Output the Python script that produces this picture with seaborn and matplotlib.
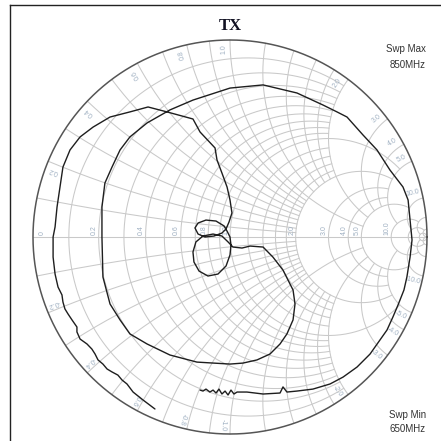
import numpy as np
import pandas as pd
import matplotlib
matplotlib.use("Agg")
import matplotlib.pyplot as plt
import seaborn as sns

gamma_re = [
    -0.381, -0.442, -0.492, -0.523, -0.548, -0.569, -0.599, -0.624, -0.645, -0.670,
    -0.685, -0.701, -0.726, -0.761, -0.777, -0.777, -0.802, -0.822, -0.838, -0.848,
    -0.853, -0.873, -0.888, -0.898, -0.898, -0.888, -0.878, -0.863, -0.848, -0.812,
    -0.761, -0.695, -0.609, -0.508, -0.416,
    -0.320, -0.188, -0.152, -0.076, -0.066, -0.041, -0.015, 0.000, 0.010,
    -0.005, -0.020, -0.041, -0.081, -0.127, -0.162, -0.178, -0.162, -0.122, -0.071,
    -0.030, -0.015, 0.000, 0.005, 0.000, -0.020, -0.061, -0.112, -0.157, -0.183,
    -0.188, -0.173, -0.137, -0.086, -0.041, -0.010, 0.015, 0.061, 0.102,
    0.168, 0.218, 0.269, 0.320, 0.330, 0.320, 0.289, 0.254, 0.203, 0.137,
    0.066, 0.000, -0.168, -0.305, -0.421, -0.508, -0.558, -0.609, -0.645, -0.650,
    -0.650, -0.635, -0.599, -0.558, -0.508, -0.421, -0.305, -0.188, 0.000,
    0.168, 0.340, 0.472, 0.543, 0.594, 0.675, 0.746, 0.812, 0.878, 0.904,
    0.914, 0.924, 0.914, 0.898, 0.883, 0.853, 0.827, 0.797, 0.761, 0.711,
    0.645, 0.574, 0.508, 0.421, 0.340, 0.289, 0.269, 0.254, 0.168, 0.086, 0.036,
    0.020, 0.005, -0.010, -0.025, -0.041, -0.056, -0.071, -0.086, -0.102, -0.122,
    -0.137, -0.152,
]
gamma_im = [
    -0.873, -0.827, -0.787, -0.746, -0.726, -0.701, -0.685, -0.670, -0.645, -0.624,
    -0.594, -0.569, -0.543, -0.518, -0.482, -0.457, -0.421, -0.391, -0.365, -0.330,
    -0.294, -0.254, -0.188, -0.102, 0.000, 0.051, 0.152, 0.254, 0.355, 0.442,
    0.508, 0.558, 0.609, 0.635, 0.660,
    0.635, 0.599, 0.533, 0.452, 0.391, 0.325, 0.254, 0.188, 0.122,
    0.076, 0.041, 0.020, 0.005, 0.000, 0.015, 0.046, 0.071, 0.086, 0.081,
    0.056, 0.030, 0.000, -0.041, -0.091, -0.147, -0.188, -0.198, -0.173, -0.127,
    -0.076, -0.025, 0.005, 0.015, 0.005, -0.025, -0.051, -0.056, -0.046,
    -0.051, -0.102, -0.168, -0.269, -0.340, -0.421, -0.492, -0.543, -0.594, -0.624,
    -0.640, -0.645, -0.635, -0.599, -0.543, -0.492, -0.421, -0.340, -0.203, 0.000,
    0.152, 0.274, 0.355, 0.442, 0.508, 0.579, 0.645, 0.695, 0.756,
    0.772, 0.731, 0.670, 0.635, 0.609, 0.518, 0.442, 0.340, 0.254, 0.188,
    0.086, -0.015, -0.102, -0.203, -0.269, -0.345, -0.406, -0.472, -0.523, -0.594,
    -0.660, -0.711, -0.746, -0.772, -0.782, -0.787, -0.761, -0.792, -0.797, -0.787, -0.787,
    -0.797, -0.777, -0.802, -0.782, -0.797, -0.772, -0.792, -0.777, -0.787, -0.772,
    -0.782, -0.777,
]

# smith grid: constant resistance circles and how far (in |x|) each one runs
r_grid = [0.1, 0.2, 0.3, 0.4, 0.5, 0.6, 0.7, 0.8, 0.9, 1.0,
          1.2, 1.4, 1.6, 1.8, 2.0, 3.0, 4.0, 5.0, 10.0, 20.0, 50.0]
r_grid_xmax = [2, 2, 2, 2, 2, 2, 2, 2, 2, 5,
               2, 2, 2, 2, 5, 5, 5, 10, 20, 50, 1e6]
# constant reactance arcs and how far (in r) each one runs
x_grid = [0.1, 0.2, 0.3, 0.4, 0.5, 0.6, 0.7, 0.8, 0.9, 1.0,
          1.2, 1.4, 1.6, 1.8, 2.0, 3.0, 4.0, 5.0, 10.0, 20.0, 50.0]
x_grid_rmax = [2, 2, 2, 2, 2, 2, 2, 2, 2, 5,
               2, 2, 2, 2, 5, 5, 5, 10, 20, 50, 1e6]

r_labels = ["0", "0.2", "0.4", "0.6", "0.8", "1.0", "2.0", "3.0", "4.0", "5.0", "10.0"]
x_labels = ["0.2", "0.4", "0.6", "0.8", "1.0", "2.0", "3.0", "4.0", "5.0", "10.0"]

GRID = "#c9c9c9"
LBL = "#9fb0c2"


def z2g(z):
    return (z - 1) / (z + 1)


def draw_r(ax, r, xmax):
    t = np.linspace(-np.arctan(xmax), np.arctan(xmax), 400)
    g = z2g(r + 1j * np.tan(t))
    ax.plot(g.real, g.imag, color=GRID, lw=0.75, zorder=1)


def draw_x(ax, x, rmax):
    t = np.linspace(0, np.arctan(rmax), 400)
    g = z2g(np.tan(t) + 1j * x)
    ax.plot(g.real, g.imag, color=GRID, lw=0.75, zorder=1)


sns.set_style("white")
fig = plt.figure(figsize=(4.41, 4.41), dpi=100)
R = 197.0
ax = fig.add_axes([10 / 441, 0, 431 / 441, 436 / 441])
ax.set_xlim(-220 / R, 211 / R)
ax.set_ylim(-204 / R, 232 / R)
ax.set_aspect("equal")
ax.set_xticks([])
ax.set_yticks([])
for side in ["right", "bottom"]:
    ax.spines[side].set_visible(False)
for side in ["top", "left"]:
    ax.spines[side].set_color("#222222")
    ax.spines[side].set_linewidth(1.0)

for r, xm in zip(r_grid, r_grid_xmax):
    draw_r(ax, r, xm)
for x, rm in zip(x_grid, x_grid_rmax):
    draw_x(ax, x, rm)
    draw_x(ax, -x, rm)
ax.plot([-1, 1], [0, 0], color=GRID, lw=0.75, zorder=1)

th = np.linspace(0, 2 * np.pi, 721)
ax.plot(np.cos(th), np.sin(th), color="#555555", lw=1.1, zorder=2)

# resistance labels along the real axis
for lab in r_labels:
    r = float(lab)
    g = (r - 1) / (r + 1)
    off = 9 / R if r == 0 else -4 / R
    ax.text(g + off, 2 / R, lab, rotation=90, ha="center", va="bottom",
            fontsize=5, color=LBL, family="Liberation Sans", zorder=3)

# reactance labels round the rim
for lab in x_labels:
    x = float(lab)
    ang = np.degrees(np.pi - 2 * np.arctan(x)) + 2
    for s in (1, -1):
        a = np.radians(s * ang)
        txt = lab if s == 1 else "-" + lab
        ax.text(0.955 * np.cos(a), 0.955 * np.sin(a), txt, rotation=s * ang,
                rotation_mode="anchor", ha="center", va="center",
                fontsize=5, color=LBL, family="Liberation Sans", zorder=3)

df = pd.DataFrame({"re": gamma_re, "im": gamma_im})
sns.lineplot(data=df, x="re", y="im", sort=False, estimator=None,
             color="#1e1e1e", lw=1.0, ax=ax, zorder=4)
ax.set_xlabel("")
ax.set_ylabel("")

fig.text(230 / 441, 1 - 26.5 / 441, "TX", ha="center", va="center",
         family="Liberation Serif", fontweight="bold", fontsize=12, color="#111122")
fig.text(426 / 441, 1 - 49 / 441, "Swp Max", ha="right", va="center",
         family="Liberation Sans", fontsize=7, color="#333333")
fig.text(426 / 441, 1 - 65 / 441, "850MHz", ha="right", va="center",
         family="Liberation Sans", fontsize=7, color="#333333")
fig.text(426 / 441, 1 - 415 / 441, "Swp Min", ha="right", va="center",
         family="Liberation Sans", fontsize=7, color="#333333")
fig.text(426 / 441, 1 - 429 / 441, "650MHz", ha="right", va="center",
         family="Liberation Sans", fontsize=7, color="#333333")

fig.savefig("out.png", dpi=100)
